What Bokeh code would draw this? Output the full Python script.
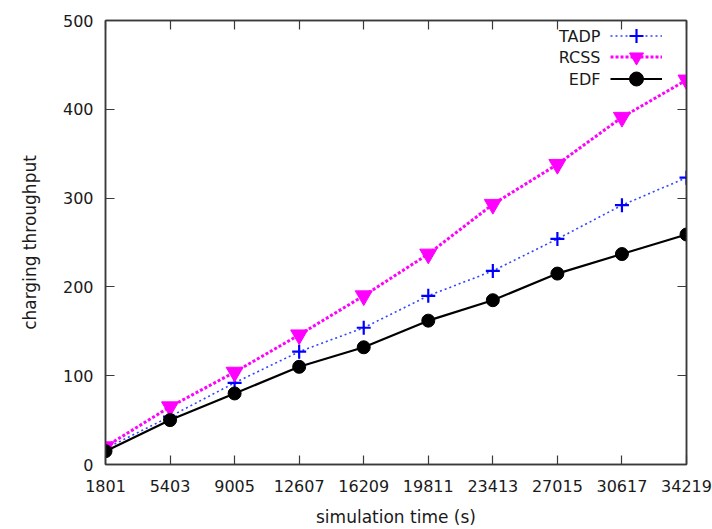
from bokeh.plotting import figure
from bokeh.models import (FixedTicker, LinearAxis, Range1d, Legend, LegendItem, Label)
from bokeh.embed import file_html
from bokeh.resources import INLINE

# ---- data ----
sim_time = [1801, 5403, 9005, 12607, 16209, 19811, 23413, 27015, 30617, 34219]
tadp = [18, 54, 92, 127, 154, 190, 218, 254, 292, 323]
rcss = [20, 65, 104, 146, 190, 237, 293, 338, 391, 433]
edf = [15, 50, 80, 110, 132, 162, 185, 215, 237, 259]
y_ticks = [0, 100, 200, 300, 400, 500]
series_names = ["TADP", "RCSS", "EDF"]

FONT = "DejaVu Sans"
AXC = "#3a3a3a"

p = figure(width=712, height=529, output_backend="svg", toolbar_location=None,
           x_range=Range1d(sim_time[0], sim_time[-1]), y_range=Range1d(0, 500),
           min_border_left=105, min_border_right=26, min_border_top=20, min_border_bottom=63,
           x_axis_label="simulation time (s)", y_axis_label="charging throughput")
p.grid.visible = False
p.outline_line_color = AXC
p.outline_line_width = 1.5
p.background_fill_color = "white"
p.border_fill_color = "white"

p.xaxis.ticker = FixedTicker(ticks=sim_time)
p.yaxis.ticker = FixedTicker(ticks=y_ticks)

for ax in [p.xaxis[0], p.yaxis[0]]:
    ax.major_tick_in = 9
    ax.major_tick_out = 0
    ax.minor_tick_line_color = None
    ax.axis_line_color = AXC
    ax.axis_line_width = 1.5
    ax.major_tick_line_color = AXC
    ax.major_tick_line_width = 1.2
    ax.major_label_text_font = FONT
    ax.major_label_text_font_size = "16px"
    ax.major_label_text_color = "#1a1a1a"
    ax.axis_label_text_font = FONT
    ax.axis_label_text_font_size = "17px"
    ax.axis_label_text_font_style = "normal"
    ax.axis_label_text_color = "#1a1a1a"

p.xaxis.major_label_standoff = 15
p.xaxis.axis_label_standoff = 12
p.yaxis.major_label_standoff = 12
p.yaxis.axis_label_standoff = 20

# mirror axes (ticks only)
top = LinearAxis(ticker=FixedTicker(ticks=sim_time),
                 major_label_overrides={t: "" for t in sim_time})
right = LinearAxis(ticker=FixedTicker(ticks=y_ticks),
                   major_label_overrides={t: "" for t in y_ticks})
for ax in [top, right]:
    ax.major_tick_in = 9
    ax.major_tick_out = 0
    ax.minor_tick_line_color = None
    ax.axis_line_color = AXC
    ax.axis_line_width = 1.5
    ax.major_tick_line_color = AXC
    ax.major_tick_line_width = 1.2
    ax.major_label_standoff = 0
    ax.major_label_text_font_size = "1px"
p.add_layout(top, "above")
p.add_layout(right, "right")

# ---- series ----
l_t = p.line(sim_time, tadp, line_color="#3344ff", line_width=1.6, line_dash="2 3")
s_t = p.scatter(sim_time, tadp, marker="cross", size=14, line_color="#0000ff", line_width=2.2)

l_r = p.line(sim_time, rcss, line_color="#ff00ff", line_width=3, line_dash="3 2")
s_r = p.scatter(sim_time, rcss, marker="inverted_triangle", size=17,
                fill_color="#ff00ff", line_color="#ff00ff")

l_e = p.line(sim_time, edf, line_color="black", line_width=2.2)
s_e = p.scatter(sim_time, edf, marker="circle", size=13, fill_color="black", line_color="black")

# gnuplot-style key: text right-aligned, sample to its right (one key row per legend)
row_renderers = [[l_t, s_t], [l_r, s_r], [l_e, s_e]]
row_bottoms = [411, 390, 368]
for rends, yb in zip(row_renderers, row_bottoms):
    lg = Legend(items=[LegendItem(label=" ", renderers=rends)],
                location=(505, yb), glyph_width=52, glyph_height=35, label_height=35,
                label_width=1, label_standoff=0, spacing=0, padding=0, margin=0,
                border_line_alpha=0, background_fill_alpha=0,
                label_text_font_size="4px")
    p.add_layout(lg)

row_y = [428.5, 407.0, 385.5]
for name, yy in zip(series_names, row_y):
    p.add_layout(Label(x=495, y=yy, x_units="screen", y_units="screen", text=name,
                       text_align="right", text_baseline="middle",
                       text_font=FONT, text_font_size="16px", text_color="#1a1a1a"))

open("out.html", "w").write(file_html(p, INLINE))
